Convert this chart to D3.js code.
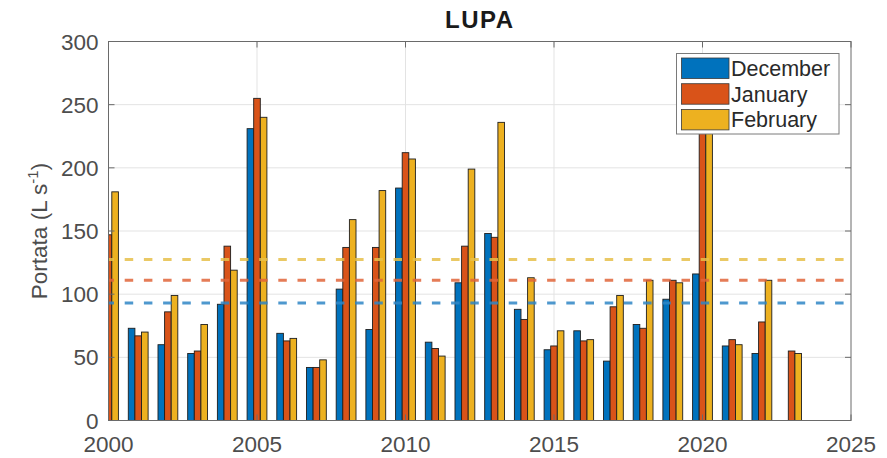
<!DOCTYPE html>
<html>
<head>
<meta charset="utf-8">
<script src="https://cdn.jsdelivr.net/npm/d3@7/dist/d3.min.js"></script>
<style>
  html, body { margin: 0; padding: 0; background: #fff; }
  svg { display: block; font-family: "Liberation Sans", Arial, sans-serif; }
</style>
</head>
<body>
<svg id="chart" width="887" height="458"></svg>
<script>
// ---- data ----
const years = [2000,2001,2002,2003,2004,2005,2006,2007,2008,2009,2010,2011,
               2012,2013,2014,2015,2016,2017,2018,2019,2020,2021,2022,2023];
const december = [null,73,60,53,92,231,69,42,104,72,184,62,109,148,88,56,71,47,76,96,116,59,53,null];
const january  = [147,67,86,55,138,255,63,42,137,137,212,57,138,145,80,59,63,90,73,111,262,64,78,55];
const february = [181,70,99,76,119,240,65,48,159,182,207,51,199,236,113,71,64,99,111,109,248,60,111,53];
const seriesNames = ["December","January","February"];
const seriesColors = ["#0072BD","#D95319","#EDB120"];
const meanValues = [93,111,127.5];           // dashed reference lines
const yTicks = [0,50,100,150,200,250,300];
const xTicks = [2000,2005,2010,2015,2020,2025];

// ---- layout ----
const svg = d3.select("#chart");
const L = 108.5, R = 851, T = 41.5, B = 420.5;
const x = d3.scaleLinear().domain([2000,2025]).range([L,R]);
const y = d3.scaleLinear().domain([0,300]).range([B,T]);

const groupWidth = 0.667;
const barW = groupWidth/3;
const seriesData = [december, january, february];

svg.append("defs").append("clipPath").attr("id","plotclip")
  .append("rect").attr("x",L).attr("y",T).attr("width",R-L).attr("height",B-T);

// grid
const grid = svg.append("g");
grid.selectAll("line.h").data(yTicks.slice(1,-1)).join("line")
  .attr("x1",L).attr("x2",R).attr("y1",d=>y(d)).attr("y2",d=>y(d))
  .attr("stroke","#e3e3e3").attr("stroke-width",1);
grid.selectAll("line.v").data(xTicks.slice(1,-1)).join("line")
  .attr("y1",T).attr("y2",B).attr("x1",d=>x(d)).attr("x2",d=>x(d))
  .attr("stroke","#e3e3e3").attr("stroke-width",1);

// bars
const plot = svg.append("g").attr("clip-path","url(#plotclip)");
seriesData.forEach((vals,si)=>{
  const off = (si-1)*barW;
  plot.append("g").selectAll("rect")
    .data(years.map((yr,i)=>({yr, v: vals[i]})).filter(d=>d.v!=null))
    .join("rect")
    .attr("x", d=>x(d.yr+off-barW/2))
    .attr("width", d=>x(d.yr+off+barW/2)-x(d.yr+off-barW/2))
    .attr("y", d=>y(d.v))
    .attr("height", d=>y(0)-y(d.v))
    .attr("fill", seriesColors[si])
    .attr("stroke","#1e1e1e").attr("stroke-width",0.9);
});

// dashed mean lines
const dashColors = ["#2f86c6","#e0653a","#e6c04a"];
plot.append("g").selectAll("line").data(meanValues).join("line")
  .attr("x1",x(2000)).attr("x2",x(2025))
  .attr("y1",d=>y(d)).attr("y2",d=>y(d))
  .attr("stroke",(d,i)=>dashColors[i])
  .attr("stroke-opacity",0.85)
  .attr("stroke-width",3)
  .attr("stroke-dasharray","8.5 10.7")
  .attr("stroke-dashoffset",3);

// axes box
const axCol = "#6a6a6a";
svg.append("rect").attr("x",L).attr("y",T).attr("width",R-L).attr("height",B-T)
  .attr("fill","none").attr("stroke",axCol).attr("stroke-width",1);

// ticks (inside, both sides)
const tk = 6;
const ax = svg.append("g").attr("stroke",axCol).attr("stroke-width",1);
yTicks.forEach(v=>{
  ax.append("line").attr("x1",L).attr("x2",L+tk).attr("y1",y(v)).attr("y2",y(v));
  ax.append("line").attr("x1",R).attr("x2",R-tk).attr("y1",y(v)).attr("y2",y(v));
});
xTicks.forEach(v=>{
  ax.append("line").attr("x1",x(v)).attr("x2",x(v)).attr("y1",B).attr("y2",B-tk);
  ax.append("line").attr("x1",x(v)).attr("x2",x(v)).attr("y1",T).attr("y2",T+tk);
});

// tick labels
const labCol = "#4d4d4d";
svg.append("g").selectAll("text").data(yTicks).join("text")
  .attr("x",L-10).attr("y",d=>y(d)).attr("dy","0.36em")
  .attr("text-anchor","end").attr("font-size",22.5).attr("fill",labCol)
  .text(d=>d);
svg.append("g").selectAll("text").data(xTicks).join("text")
  .attr("x",d=>x(d)).attr("y",452)
  .attr("text-anchor","middle").attr("font-size",22.5).attr("fill",labCol)
  .text(d=>d);

// y label
const yl = svg.append("text")
  .attr("transform",`translate(47,${(T+B)/2}) rotate(-90)`)
  .attr("text-anchor","middle").attr("font-size",22.5).attr("fill",labCol);
yl.append("tspan").text("Portata (L s");
yl.append("tspan").attr("font-size",15).attr("dy",-9).text("-1");
yl.append("tspan").attr("dy",9).text(")");

// title
svg.append("text").attr("x",(L+R)/2).attr("y",28)
  .attr("text-anchor","middle").attr("font-size",24).attr("font-weight","bold")
  .attr("letter-spacing",1.5).attr("fill","#1a1a1a").text("LUPA");

// legend
const lg = svg.append("g");
lg.append("rect").attr("x",676.5).attr("y",53.5).attr("width",162.5).attr("height",80.5)
  .attr("fill","#fff").attr("stroke","#7a7a7a").attr("stroke-width",1);
seriesNames.forEach((n,i)=>{
  const yy = 58 + i*25.7;
  lg.append("rect").attr("x",681.5).attr("y",yy).attr("width",47.5).attr("height",20.5)
    .attr("fill",seriesColors[i]).attr("stroke","#3a3a3a").attr("stroke-width",0.8);
  lg.append("text").attr("x",731).attr("y",yy+18).attr("font-size",21.5)
    .attr("fill","#2a2a2a").text(n);
});
</script>
</body>
</html>
